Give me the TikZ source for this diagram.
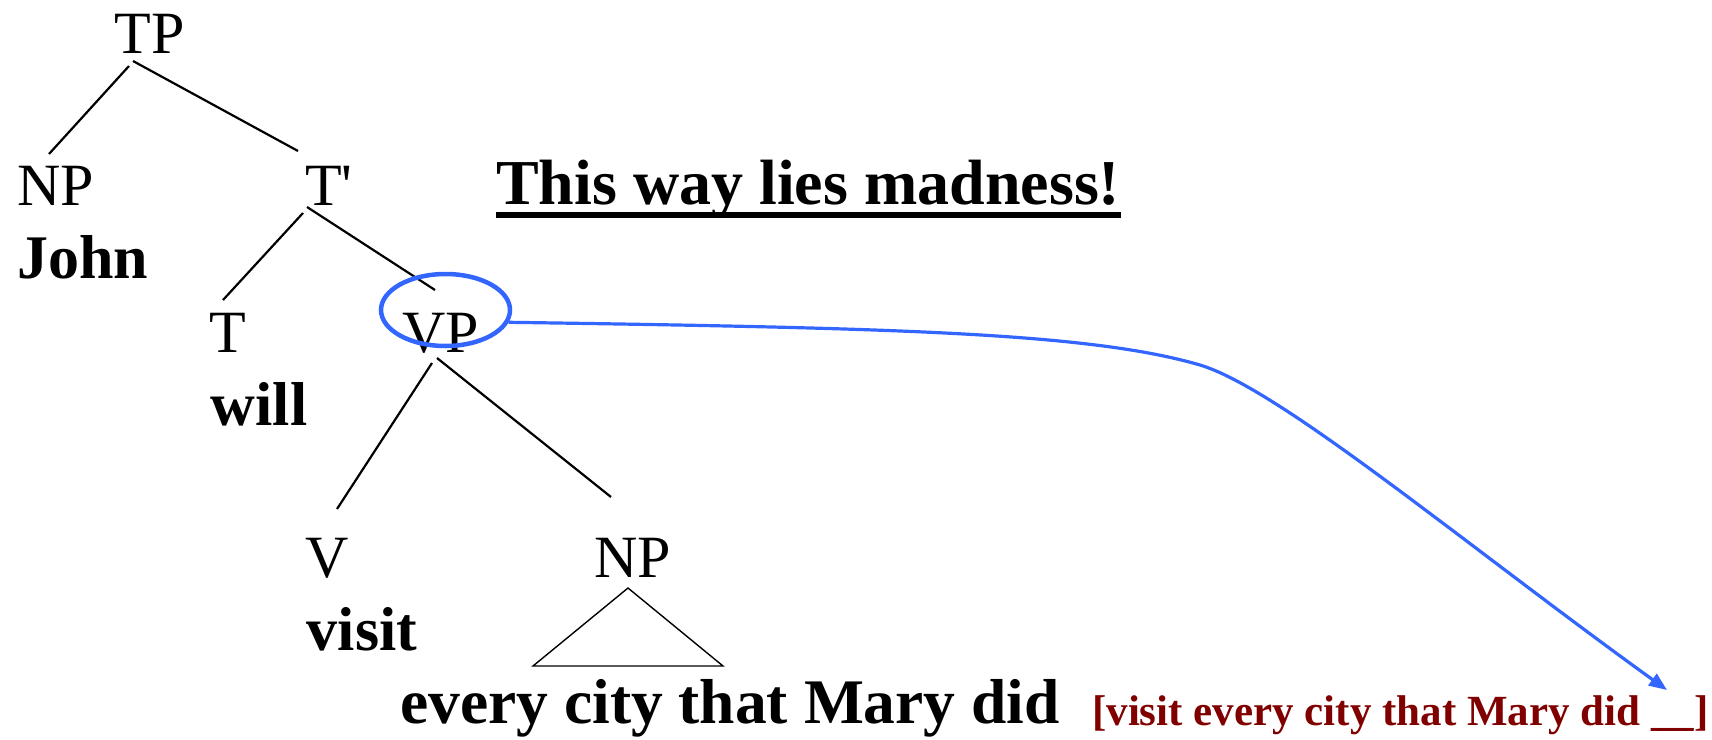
\documentclass[tikz,border=0pt]{standalone}
\usepackage{fontspec}
\setmainfont{Liberation Serif}
\usetikzlibrary{shapes.geometric,arrows.meta}
\definecolor{hlblue}{HTML}{3366FF}
\definecolor{darkred}{HTML}{800000}
\begin{document}
\begin{tikzpicture}[x=1pt,y=-1pt,
  cat/.style={anchor=base, inner sep=0pt, font=\fontsize{60}{72}\selectfont},
  word/.style={anchor=base, inner sep=0pt, font=\fontsize{62}{74}\selectfont\bfseries},
  branch/.style={line width=2.2pt},
  thin/.style={line width=1.4pt}]
\useasboundingbox (0,0) rectangle (1712,739);
% category labels
\node[cat] (TP) at (149.5,53) {TP};
\node[cat] (NPa) at (56,205) {NP};
\node[cat] (Tbar) at (329,205) {T\textquotesingle};
\node[cat] (T) at (228,352) {T};
\node[cat] (VP) at (441,352) {VP};
\node[cat] (V) at (327.5,577) {V};
\node[cat] (NPb) at (632.5,577) {NP};
% words
\node[word] (john) at (82.5,278) {John};
\node[word] (will) at (259,425) {will};
\node[word] (visit) at (362,650) {visit};
\node[anchor=base west, inner sep=0pt, font=\fontsize{63.5}{76}\selectfont\bfseries] (every) at (400,723) {every city that Mary did};
\node[anchor=base west, inner sep=0pt, text=darkred, font=\fontsize{43}{52}\selectfont\bfseries] (ellided) at (1092,725) {[visit every city that Mary did \_\_]};
\node[anchor=base west, inner sep=0pt, font=\fontsize{64}{77}\selectfont\bfseries] (head) at (496,204) {This way lies madness!};
\fill ([shift={(0,8)}]head.base west) rectangle ([shift={(0,14)}]head.base east);
% branches
\draw[branch] ([shift={(-20.5,13)}]TP.base) -- ([shift={(-7,-51)}]NPa.base);
\draw[branch] ([shift={(-16.5,8)}]TP.base) -- ([shift={(-31,-54)}]Tbar.base);
\draw[branch] ([shift={(-26,8)}]Tbar.base) -- ([shift={(-5,-52)}]T.base);
\draw[branch] ([shift={(-22,2)}]Tbar.base) -- ([shift={(-6,-62)}]VP.base);
\draw[branch] ([shift={(-9,11)}]VP.base) -- ([shift={(9.5,-68)}]V.base);
\draw[branch] ([shift={(-4,6)}]VP.base) -- ([shift={(-21.5,-80)}]NPb.base);
% triangle
\draw[thin, line join=miter] ([shift={(-4.5,11)}]NPb.base) -- ([shift={(-99.5,89)}]NPb.base) -- ([shift={(90.5,89)}]NPb.base) -- cycle;
% highlight ellipse and arrow
\node[ellipse, draw=hlblue, line width=4.5pt, minimum width=129pt, minimum height=72pt, inner sep=0pt] (vpc) at ([shift={(4.5,-42)}]VP.base) {};
\coordinate (bend) at (1200,365);
\coordinate (tip) at (1667,690);
\draw[hlblue, line width=3.2pt, -{Triangle[length=18pt,width=14pt]}] (vpc.-11) .. controls (900,328) and (1090,333) .. (bend) .. controls (1280,389) and (1467,546) .. (tip);
\end{tikzpicture}
\end{document}
